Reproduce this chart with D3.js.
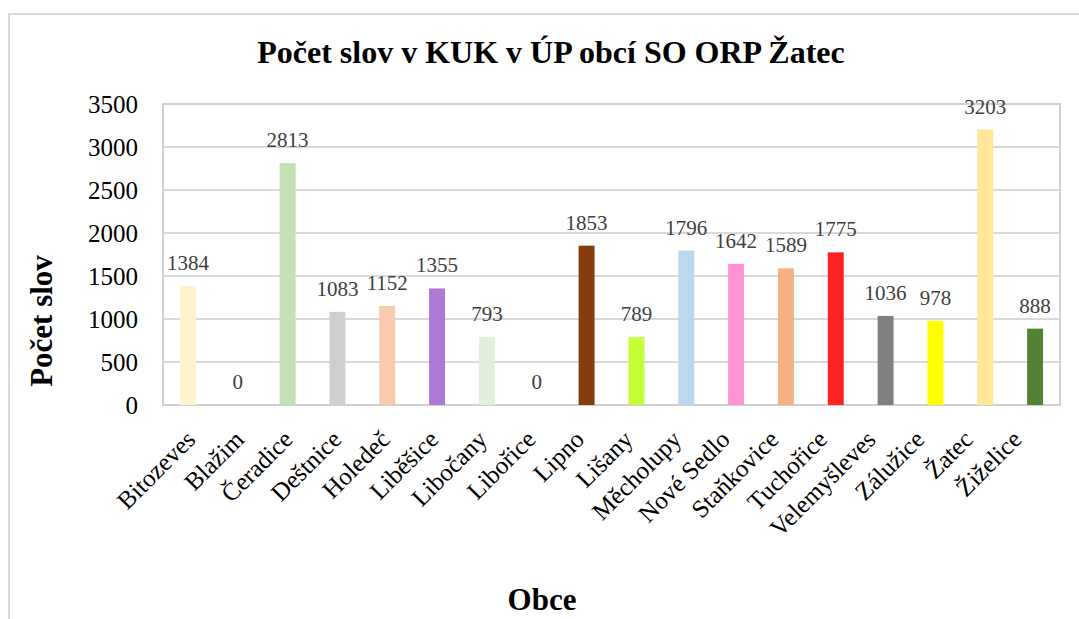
<html>
<head>
<style>
  body { margin: 0; background: #fff; }
  text { font-family: "Liberation Serif", "DejaVu Serif", serif; }
</style>
</head>
<body>

<script src="https://d3js.org/d3.v7.min.js"></script>
<script>

    var obce = ["Bitozeves", "Blažim", "Čeradice", "Deštnice", "Holedeč", "Liběšice", "Libočany",
        "Libořice", "Lipno", "Lišany", "Měcholupy", "Nové Sedlo", "Staňkovice", "Tuchořice",
        "Velemyšleves", "Zálužice", "Žatec", "Žiželice"];

    var pocty = [1384, 0, 2813, 1083, 1152, 1355, 793, 0, 1853, 789, 1796, 1642, 1589, 1775,
        1036, 978, 3203, 888];

    var barvy = ["#fff2cc", "#d9d9d9", "#c5e0b4", "#d0cece", "#f8cbad", "#ae78d6", "#e2efda",
        "#d9d9d9", "#843c0c", "#c5ff37", "#bdd7ee", "#ff93d3", "#f4b183", "#ff2222",
        "#808080", "#ffff00", "#ffe699", "#548235"];

    var yTicks = [0, 500, 1000, 1500, 2000, 2500, 3000, 3500];

    var width = 1079,
        height = 619;

    var serif = "'Liberation Serif', 'DejaVu Serif', serif";

    var plot = {left: 163, right: 1060, top: 104, bottom: 405};

    var svg = d3.select("body").append("svg").attr("width", width).attr("height", height)
        .attr("font-family", serif);

    // outer chart border
    svg.append("rect")
        .attr("x", 9).attr("y", 14)
        .attr("width", 1200).attr("height", 800)
        .attr("fill", "none").attr("stroke", "#d9d9d9").attr("stroke-width", 2);

    var x = d3.scaleBand().domain(obce).range([plot.left, plot.right]).paddingInner(0.68).paddingOuter(0.34);
    var y = d3.scaleLinear().domain([0, 3500]).range([plot.bottom, plot.top]);
    // category labels sit slightly tighter than the bars
    var xl = d3.scalePoint().domain(obce).range([197, 1023]);

    // grid
    svg.append("g").selectAll("line").data(yTicks).enter().append("line")
        .attr("x1", plot.left).attr("x2", plot.right)
        .attr("y1", function (d) { return y(d); })
        .attr("y2", function (d) { return y(d); })
        .attr("stroke", "#d9d9d9").attr("stroke-width", 2);

    svg.append("rect")
        .attr("x", plot.left).attr("y", plot.top)
        .attr("width", plot.right - plot.left).attr("height", plot.bottom - plot.top)
        .attr("fill", "none").attr("stroke", "#d0d0d0").attr("stroke-width", 2);

    // y axis labels
    var yAxis = svg.append("g")
        .attr("transform", "translate(" + (plot.left - 25) + ",0)")
        .call(d3.axisLeft(y).tickValues(yTicks).tickFormat(d3.format("d")).tickSize(0).tickPadding(0))
        .attr("font-family", serif)
        .attr("font-size", 25);
    yAxis.select(".domain").remove();
    yAxis.selectAll("text")
        .attr("fill", "#000")
        .attr("dy", "0.34em");

    // bars
    svg.append("g").selectAll("rect").data(obce).enter().append("rect")
        .attr("x", function (d) { return x(d); })
        .attr("width", x.bandwidth())
        .attr("y", function (d, i) { return y(pocty[i]); })
        .attr("height", function (d, i) { return y(0) - y(pocty[i]); })
        .attr("fill", function (d, i) { return barvy[i]; });

    // data labels
    svg.append("g").selectAll("text").data(obce).enter().append("text")
        .attr("x", function (d) { return x(d) + x.bandwidth() / 2; })
        .attr("y", function (d, i) { return y(pocty[i]) - 16; })
        .attr("text-anchor", "middle")
        .attr("font-size", 21).attr("fill", "#404040")
        .text(function (d, i) { return pocty[i]; });

    // category labels
    svg.append("g").selectAll("text").data(obce).enter().append("text")
        .attr("transform", function (d) { return "translate(" + xl(d) + ",441) rotate(-45)"; })
        .attr("text-anchor", "end")
        .attr("font-size", 25).attr("fill", "#000")
        .text(function (d) { return d; });

    // titles
    svg.append("text")
        .attr("x", 551).attr("y", 63)
        .attr("text-anchor", "middle")
        .attr("font-size", 32).attr("font-weight", "bold")
        .text("Počet slov v KUK v ÚP obcí SO ORP Žatec");

    svg.append("text")
        .attr("x", 542).attr("y", 610)
        .attr("text-anchor", "middle")
        .attr("font-size", 31).attr("font-weight", "bold")
        .text("Obce");

    svg.append("text")
        .attr("transform", "translate(52,321) rotate(-90)")
        .attr("text-anchor", "middle")
        .attr("font-size", 31).attr("font-weight", "bold")
        .text("Počet slov");

</script>
</body>
</html>
